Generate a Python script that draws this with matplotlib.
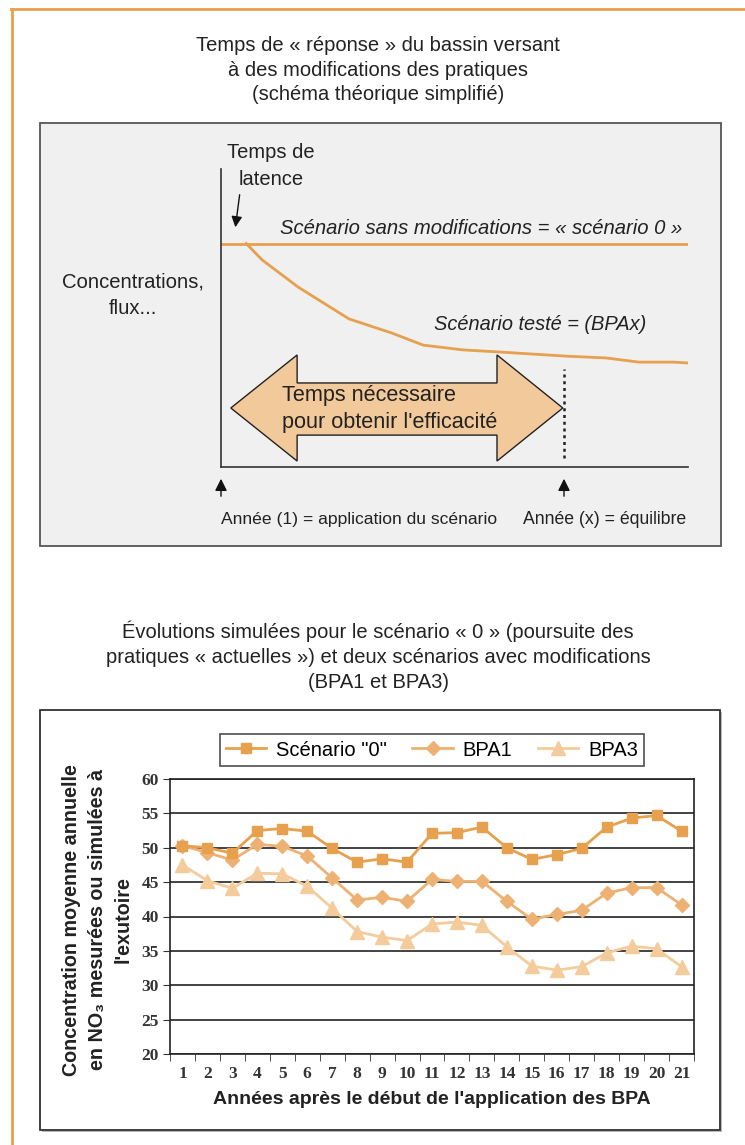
import matplotlib
matplotlib.use("Agg")
import matplotlib.pyplot as plt
from matplotlib.patches import Rectangle, Polygon

# Fonts
SANS = ["Liberation Sans", "DejaVu Sans"]
SERIF = ["Liberation Serif", "DejaVu Serif"]
plt.rcParams["font.family"] = SANS

# Data: lower chart (NO3 concentrations)
years = list(range(1, 22))
scenario0 = [50.3, 50.0, 49.2, 52.5, 52.8, 52.4, 49.9, 47.9, 48.4, 47.9, 52.1,
             52.2, 53.0, 50.0, 48.3, 49.0, 49.9, 53.0, 54.3, 54.7, 52.4]
bpa1 = [50.3, 49.3, 48.2, 50.5, 50.2, 48.8, 45.6, 42.4, 42.8, 42.2, 45.4,
        45.1, 45.1, 42.2, 39.6, 40.3, 40.9, 43.4, 44.2, 44.2, 41.7]
bpa3 = [47.5, 45.2, 44.1, 46.3, 46.2, 44.4, 41.2, 37.8, 37.0, 36.5, 38.9,
        39.2, 38.7, 35.6, 32.8, 32.2, 32.7, 34.7, 35.7, 35.3, 32.7]

# Schematic (upper diagram), in arbitrary units 0-100
ref_level = 75
curve_x = [5.4, 8.8, 16.5, 27.4, 36.5, 43.3, 51.8, 59.5, 73.9, 82.4, 89.5, 96.8, 100]
curve_y = [75, 69.5, 60.4, 49.7, 45.0, 40.9, 39.3, 38.6, 37.2, 36.6, 35.2, 35.2, 34.9]
equilibrium_x = 73.4

c0 = "#E6A04E"
c1 = "#EDB273"
c3 = "#F4CC9C"
txt = "#222222"
W, H = 745, 1145

fig = plt.figure(figsize=(W / 100, H / 100), dpi=100)

# Background layer in pixel coordinates
bg = fig.add_axes([0, 0, 1, 1])
bg.set_xlim(0, W)
bg.set_ylim(H, 0)
bg.axis("off")
bg.plot([11, W], [9, 9], color="#E8A04E", lw=2)
bg.plot([11.5, 11.5], [9, H], color="#E8A04E", lw=2)
bg.add_patch(Rectangle((40, 123), 681, 423, facecolor="#F0F0F0", edgecolor="#555555", lw=1.3))
bg.add_patch(Rectangle((42, 712), 680, 420, facecolor="#BBBBBB", edgecolor="none"))
bg.add_patch(Rectangle((40, 710), 680, 420, facecolor="white", edgecolor="#333333", lw=1.3))

# Upper diagram
dg = fig.add_axes([221 / W, 1 - 467 / H, 467 / W, 298 / H])
dg.set_xlim(0, 100)
dg.set_ylim(0, 100)
dg.patch.set_visible(False)
for s in ["top", "right"]:
    dg.spines[s].set_visible(False)
for s in ["left", "bottom"]:
    dg.spines[s].set_color("#333333")
    dg.spines[s].set_linewidth(1.2)
dg.set_xticks([])
dg.set_yticks([])
dg.axhline(ref_level, color=c0, lw=2)
dg.plot(curve_x, curve_y, color=c0, lw=2)
dg.plot([equilibrium_x, equilibrium_x], [3, 33], color="#222222", lw=1.8, ls=(0, (1.2, 1.5)))
arrow = Polygon([(2.1, 19.8), (16.3, 37.6), (16.3, 28.2), (59.1, 28.2), (59.1, 37.6),
                 (73.2, 19.8), (59.1, 2.0), (59.1, 10.7), (16.3, 10.7), (16.3, 2.0)],
                closed=True, facecolor="#F2C99A", edgecolor="#222222", lw=1)
dg.add_patch(arrow)

# Lower chart
ax = fig.add_axes([170 / W, 1 - 1054 / H, 524 / W, 275 / H])
pos = list(range(len(years)))
ax.plot(pos, scenario0, color=c0, lw=2, marker="s", markersize=7.5, label='Scénario "0"', zorder=5)
ax.plot(pos, bpa1, color=c1, lw=2, marker="D", markersize=7, label="BPA1", zorder=4)
ax.plot(pos, bpa3, color=c3, lw=2, marker="^", markersize=9.5, label="BPA3", zorder=3)
ax.set_xlim(-0.5, len(years) - 0.5)
ax.set_ylim(20, 60)
ax.set_yticks(range(20, 61, 5))
ax.yaxis.grid(True, color="#222222", lw=1.2)
ax.set_axisbelow(True)
ax.set_xticks(pos)
ax.set_xticklabels([str(y) for y in years])
ax.set_xticks([p - 0.5 for p in pos] + [len(years) - 0.5], minor=True)
ax.tick_params(axis="x", which="major", length=0, pad=9)
ax.tick_params(axis="x", which="minor", length=5, direction="out", color="#333333")
ax.tick_params(axis="y", length=5, direction="out", color="#333333", pad=3)
for lab in ax.get_xticklabels() + ax.get_yticklabels():
    lab.set_family(SERIF)
    lab.set_fontweight("bold")
    lab.set_fontsize(12.5)
    lab.set_color("#333333")
for s in ax.spines.values():
    s.set_color("#222222")
    s.set_linewidth(1.2)
ax.set_xlabel("Années après le début de l'application des BPA", fontsize=14,
              fontweight="bold", color=txt, labelpad=6)
leg = ax.legend(loc="center", bbox_to_anchor=(432 / W, 1 - 750 / H), bbox_transform=fig.transFigure,
                ncol=3, fontsize=14.5, frameon=True, fancybox=False, edgecolor="#222222",
                handlelength=2.0, handletextpad=0.5, columnspacing=1.25, borderpad=0.32,
                borderaxespad=0)
leg.get_frame().set_linewidth(1.2)

# Foreground text layer in pixel coordinates
fg = fig.add_axes([0, 0, 1, 1])
fg.set_xlim(0, W)
fg.set_ylim(H, 0)
fg.axis("off")

fg.text(378, 70, "Temps de « réponse » du bassin versant\nà des modifications des pratiques\n(schéma théorique simplifié)",
        ha="center", va="center", fontsize=14.5, linespacing=1.39, color=txt)
fg.text(378, 656, "Évolutions simulées pour le scénario « 0 » (poursuite des\npratiques « actuelles ») et deux scénarios avec modifications\n(BPA1 et BPA3)",
        ha="center", va="center", fontsize=14.5, linespacing=1.39, color=txt)
fg.text(271, 166, "Temps de\nlatence", ha="center", va="center", fontsize=14.5,
        linespacing=1.5, color=txt)
fg.annotate("", xy=(235, 230), xytext=(240, 192),
            arrowprops=dict(arrowstyle="-|>", color="#111111", lw=1, mutation_scale=16))
fg.text(481, 229, "Scénario sans modifications = « scénario 0 »", ha="center", va="center",
        fontsize=14.6, style="italic", color=txt)
fg.text(540, 324, "Scénario testé = (BPAx)", ha="center", va="center",
        fontsize=14.4, style="italic", color=txt)
fg.text(133, 295, "Concentrations,\nflux...", ha="center", va="center", fontsize=14.6,
        linespacing=1.5, color=txt)
fg.text(282, 409, "Temps nécessaire\npour obtenir l'efficacité", ha="left", va="center",
        fontsize=15.6, linespacing=1.32, color=txt)
for xa in [221, 564]:
    fg.annotate("", xy=(xa, 476), xytext=(xa, 499),
                arrowprops=dict(arrowstyle="-|>", color="#111111", lw=1, mutation_scale=18))
fg.text(221, 524, "Année (1) = application du scénario", ha="left", va="baseline",
        fontsize=12.6, color=txt)
fg.text(523, 524, "Année (x) = équilibre", ha="left", va="baseline",
        fontsize=12.7, color=txt)
fg.text(97, 920, "Concentration moyenne annuelle\nen NO₃ mesurées ou simulées à\nl'exutoire",
        rotation=90, ha="center", va="center", fontsize=14.2, fontweight="bold",
        linespacing=1.45, color=txt)

fig.savefig("out.png", dpi=100)
